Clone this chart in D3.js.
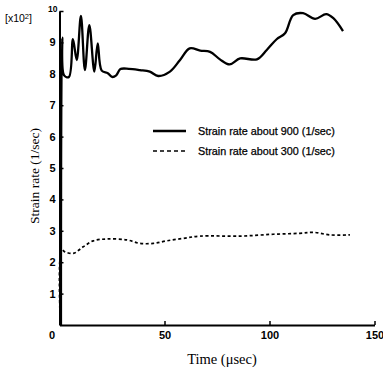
<!DOCTYPE html>
<html>
<head>
<meta charset="utf-8">
<script src="https://cdn.jsdelivr.net/npm/d3@7"></script>
<style>
html,body{margin:0;padding:0;background:#fff;}
svg{display:block;}
</style>
</head>
<body>
<svg id="chart" width="383" height="376"></svg>
<script>
// ---- data ----
const fastTime = [0.7,1.3,2.2,4.5,6.4,8.2,10.2,12.1,14.2,16.6,18.2,20.1,23,25,27,29,33,38.3,43,47,52.6,57.4,62,67,71.7,76.4,81,86,94,98.7,103.4,107.4,111.3,116,121.7,127,130.4,135];
const fastRate = [0,9.15,7.95,7.9,9.1,8.44,9.84,8.12,9.55,8.07,8.97,8.1,8.02,7.9,7.95,8.15,8.16,8.12,8.07,7.93,8.07,8.44,8.81,8.74,8.7,8.46,8.3,8.49,8.46,8.76,9.1,9.29,9.87,9.93,9.75,9.9,9.77,9.36];
const slowTime = [0.4,1.0,2.6,6.6,11.3,16.1,22.5,32,38.3,44.7,51,59,67,86,101.8,114.5,120.9,128.8,138.3];
const slowRate = [0,2.4,2.33,2.28,2.49,2.68,2.74,2.71,2.6,2.6,2.68,2.76,2.83,2.83,2.89,2.92,2.95,2.87,2.87];
const xTicks = [0,50,100,150];
const yTicks = [1,2,3,4,5,6,7,8,9];
const yTopTick = 10;
const legendLabels = ["Strain rate about 900 (1/sec)","Strain rate about 300 (1/sec)"];
const xTitle = "Time (\u03bcsec)";
const yTitle = "Strain rate (1/sec)";

// ---- layout ----
const svg = d3.select("#chart");
const x = d3.scaleLinear().domain([0,150]).range([59.5,374.5]);
const y = d3.scaleLinear().domain([0,10]).range([325,11]);

const sans = "'Liberation Sans', Arial, sans-serif";
const serif = "'Liberation Serif', 'Times New Roman', serif";

// y axis
const gy = svg.append("g").attr("transform",`translate(${x(0)},0)`)
  .call(d3.axisLeft(y).tickValues(yTicks.concat([yTopTick])).tickSize(-4).tickSizeOuter(0).tickPadding(4)
    .tickFormat(d => d));
gy.select(".domain").attr("stroke","#000").attr("stroke-width",2);
gy.selectAll(".tick line").attr("stroke","#000").attr("stroke-width",1.5);
gy.selectAll(".tick text").attr("font-family",sans).attr("font-weight","bold").attr("font-size",11).attr("fill","#000");
gy.selectAll(".tick").filter(d=>d===yTopTick).select("text")
  .attr("font-size",8.5).attr("dy","0.1em").attr("x",-2);

// x axis
const gx = svg.append("g").attr("transform",`translate(0,${y(0)})`)
  .call(d3.axisBottom(x).tickValues(xTicks).tickSize(-4).tickSizeOuter(0).tickPadding(6).tickFormat(d=>d));
gx.select(".domain").attr("stroke","#000").attr("stroke-width",2);
gx.selectAll(".tick line").attr("stroke","#000").attr("stroke-width",1.5);
gx.selectAll(".tick text").attr("font-family",sans).attr("font-weight","bold").attr("font-size",11).attr("fill","#000");
gx.selectAll(".tick").filter(d=>d===0).select("text").attr("x",-8);

// multiplier label
const mult = svg.append("text").attr("x",5).attr("y",22).attr("font-family",sans).attr("font-size",10.5).attr("fill","#000");
mult.append("tspan").text("[x10");
mult.append("tspan").attr("font-size",7.5).attr("dy","-3.5").text("2");
mult.append("tspan").attr("dy","3.5").text("]");

// lines
const lineGen = (tArr,vArr) => d3.line().x(i=>x(tArr[i])).y(i=>y(vArr[i])).curve(d3.curveCatmullRom.alpha(0.5))(d3.range(tArr.length));
svg.append("path").attr("d",lineGen(fastTime,fastRate)).attr("fill","none").attr("stroke","#000").attr("stroke-width",2.3).attr("stroke-linejoin","round");
svg.append("path").attr("d",lineGen(slowTime,slowRate)).attr("fill","none").attr("stroke","#000").attr("stroke-width",1.7).attr("stroke-dasharray","3,2.5");

// legend
const lg = svg.append("g");
[0,1].forEach(i=>{
  const ly = 131 + i*20;
  lg.append("line").attr("x1",153).attr("x2",186).attr("y1",ly).attr("y2",ly)
    .attr("stroke","#000").attr("stroke-width",i===0?2.3:1.7).attr("stroke-dasharray",i===0?null:"4,3");
  lg.append("text").attr("x",198).attr("y",ly+4).attr("font-family",sans).attr("font-size",10.8).attr("fill","#000")
    .attr("stroke","#000").attr("stroke-width",0.25).text(legendLabels[i]);
});

// titles
svg.append("text").attr("x",222).attr("y",364).attr("text-anchor","middle").attr("font-family",serif).attr("font-size",14.5).attr("fill","#000").text(xTitle);
svg.append("text").attr("transform","translate(39,176) rotate(-90)").attr("text-anchor","middle").attr("font-family",serif).attr("font-size",13.5).attr("fill","#000").text(yTitle);
</script>
</body>
</html>
